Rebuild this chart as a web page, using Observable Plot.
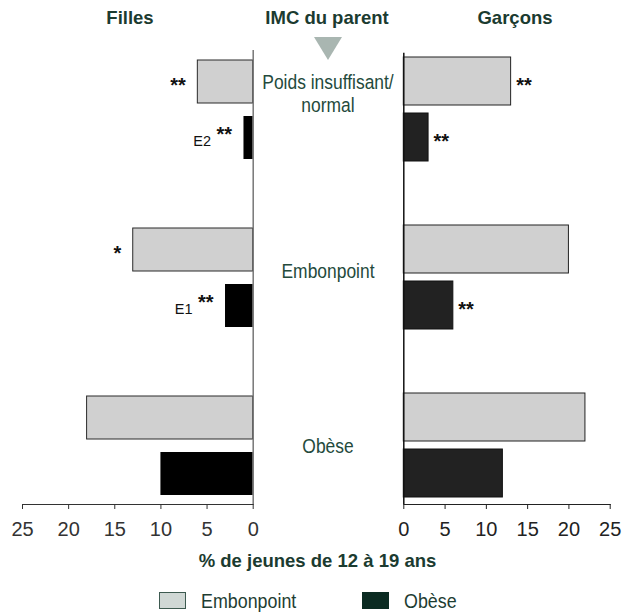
<!DOCTYPE html>
<html>
<head>
<meta charset="utf-8">
<script src="https://cdn.jsdelivr.net/npm/d3@7"></script>
<script src="https://cdn.jsdelivr.net/npm/@observablehq/plot@0.6"></script>
<style>
  body { margin: 0; background: #fff; }
  #wrap { position: relative; width: 622px; height: 613px; overflow: hidden; font-family: "Liberation Sans", Arial, sans-serif; }
  #wrap svg { position: absolute; top: 0; }
  .abs { position: absolute; white-space: nowrap; }
  .title { font-weight: bold; font-size: 18.5px; line-height: 18.5px; color: #1b3b30; transform: translateX(-50%); }
  .cat { font-size: 20.5px; line-height: 23.4px; color: #244a3c; text-align: center; transform: translateX(-50%) scaleX(0.85); }
  .tri { width: 0; height: 0; border-left: 14px solid transparent; border-right: 14px solid transparent; border-top: 23px solid #a9b6b1; }
  .sw { position: absolute; box-sizing: border-box; width: 27px; height: 17px; border: 1.5px solid #3d5a50; }
  .leg { font-size: 21px; line-height: 21px; color: #1e3d32; transform-origin: left center; transform: scaleX(0.85); }
</style>
</head>
<body>
<div id="wrap"></div>
<script>
// ---- data ----
const categories = ["Poids insuffisant/normal", "Embonpoint", "Obèse"];
const categoryLines = [["Poids insuffisant/", "normal"], ["Embonpoint"], ["Obèse"]];
const types = ["Embonpoint", "Obèse"];
const fillesEmbonpoint = [6, 13, 18];
const fillesObese = [1, 3, 10];
const garconsEmbonpoint = [13, 20, 22];
const garconsObese = [3, 6, 12];
const fillesSigEmbonpoint = ["**", "*", ""];
const fillesSigObese = ["**", "**", ""];
const fillesQualiteObese = ["E2", "E1", ""];
const garconsSigEmbonpoint = ["**", "", ""];
const garconsSigObese = ["**", "**", ""];
const garconsQualiteObese = ["", "", ""];
const xTicks = [0, 5, 10, 15, 20, 25];
const panelTitles = ["Filles", "IMC du parent", "Garçons"];
const axisTitle = "% de jeunes de 12 à 19 ans";
const legendLabels = ["Embonpoint", "Obèse"];

// ---- build rows ----
function rows(emb, obe, sigE, sigO, qualO) {
  return categories.flatMap((c, i) => [
    {cat: c, type: types[0], key: c + "|" + types[0], value: emb[i], sig: sigE[i], q: ""},
    {cat: c, type: types[1], key: c + "|" + types[1], value: obe[i], sig: sigO[i], q: qualO[i]}
  ]);
}
const fRows = rows(fillesEmbonpoint, fillesObese, fillesSigEmbonpoint, fillesSigObese, fillesQualiteObese);
const gRows = rows(garconsEmbonpoint, garconsObese, garconsSigEmbonpoint, garconsSigObese, garconsQualiteObese);
const yDomain = categories.flatMap((c, i) =>
  i < categories.length - 1 ? [c + "|" + types[0], c + "|" + types[1], "espace" + i] : [c + "|" + types[0], c + "|" + types[1]]);

const font = '"Liberation Sans", Arial, sans-serif';
const wrap = document.getElementById("wrap");

// ---- Filles (left) ----
const left = Plot.plot({
  width: 311, height: 540,
  marginLeft: 22, marginRight: 58.3, marginTop: 50, marginBottom: 36,
  style: {fontFamily: font, fontSize: "20px", color: "#333", background: "transparent", overflow: "visible"},
  x: {domain: [0, 25], reverse: true, ticks: xTicks, tickSize: 5, tickPadding: 12, line: true, label: null},
  y: {domain: yDomain, range: [44.1, 510.5], paddingInner: 0.24, paddingOuter: 0.24, axis: null},
  marks: [
    Plot.barX(fRows.filter(d => d.type === types[0]), {x: "value", y: "key", fill: "#d0d0d0", stroke: "#2a2a2a", strokeWidth: 1}),
    Plot.barX(fRows.filter(d => d.type === types[1]), {x: "value", y: "key", fill: "#000000"}),
    Plot.ruleX([0], {stroke: "#777", strokeWidth: 1.5}),
    Plot.text(fRows.filter(d => !d.q), {x: "value", y: "key", text: "sig", textAnchor: "end", dx: -12, dy: 4, fontSize: 20, fontWeight: "bold", fontFamily: font, fill: "#111"}),
    Plot.text(fRows.filter(d => d.q), {x: "value", y: "key", text: "sig", textAnchor: "end", dx: -12, dy: -3.5, fontSize: 20, fontWeight: "bold", fontFamily: font, fill: "#111"}),
    Plot.text(fRows.filter(d => d.q), {x: "value", y: "key", text: "q", textAnchor: "end", dx: -33, dy: 3, fontSize: 14.5, fontFamily: font, fill: "#111"})
  ]
});
left.style.left = "0px";
wrap.appendChild(left);

// ---- Garçons (right) ----
const right = Plot.plot({
  width: 311, height: 540,
  marginLeft: 92.3, marginRight: 12.3, marginTop: 52.7, marginBottom: 36,
  style: {fontFamily: font, fontSize: "20px", color: "#222", background: "transparent", overflow: "visible"},
  x: {domain: [0, 25], ticks: xTicks, tickSize: 5, tickPadding: 12, line: true, label: null},
  y: {domain: yDomain, range: [48, 504.7], paddingInner: 0.149, paddingOuter: 0.149, axis: null},
  marks: [
    Plot.barX(gRows.filter(d => d.type === types[0]), {x: "value", y: "key", fill: "#d0d0d0", stroke: "#222", strokeWidth: 1}),
    Plot.barX(gRows.filter(d => d.type === types[1]), {x: "value", y: "key", fill: "#222222", stroke: "#111", strokeWidth: 1}),
    Plot.ruleX([0], {stroke: "#111", strokeWidth: 1.5}),
    Plot.text(gRows, {x: "value", y: "key", text: "sig", textAnchor: "start", dx: 5, dy: 4, fontSize: 20, fontWeight: "bold", fontFamily: font, fill: "#111"})
  ]
});
right.style.left = "311px";
wrap.appendChild(right);

// ---- HTML text: titles, middle labels, axis title, legend ----
function addDiv(cls, text, x, y, extra) {
  const d = document.createElement("div");
  d.className = "abs " + cls;
  d.style.left = x + "px";
  d.style.top = y + "px";
  if (extra) Object.assign(d.style, extra);
  if (Array.isArray(text)) { text.forEach((t, i) => { if (i) d.appendChild(document.createElement("br")); d.appendChild(document.createTextNode(t)); }); }
  else d.textContent = text;
  wrap.appendChild(d);
  return d;
}
const titleX = [130, 327, 515];
panelTitles.forEach((t, i) => addDiv("title", t, titleX[i], 9.3));
addDiv("tri", "", 313.5, 36.7);

const catTops = [69.5, 259, 434];
categoryLines.forEach((lines, i) => addDiv("cat", lines, 328, catTops[i]));

addDiv("title", axisTitle, 317.5, 551.8);

const swX = [159.3, 361.7];
const swFill = ["#d0d8d5", "#0b2b22"];
const txtX = [200.7, 404];
legendLabels.forEach((l, i) => {
  const s = document.createElement("div");
  s.className = "sw";
  s.style.left = swX[i] + "px";
  s.style.top = "591.7px";
  s.style.background = swFill[i];
  if (i === 1) s.style.borderColor = "#0b2b22";
  wrap.appendChild(s);
  addDiv("leg", l, txtX[i], 589.9);
});
</script>
</body>
</html>
